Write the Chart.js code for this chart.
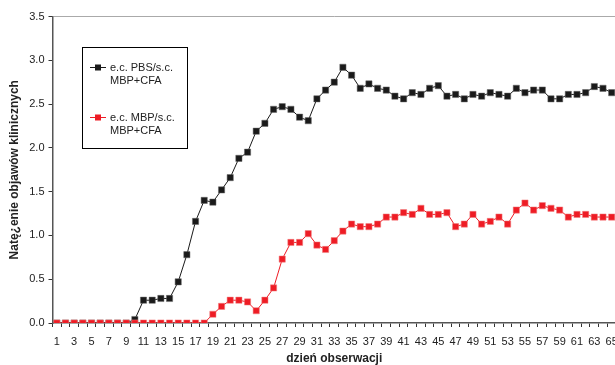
<!DOCTYPE html>
<html>
<head>
<meta charset="utf-8">
<script src="https://cdn.jsdelivr.net/npm/chart.js@4.4.1/dist/chart.umd.min.js"></script>
<style>
  html, body { margin: 0; padding: 0; background: #fff; overflow: hidden; }
  #wrap { position: relative; width: 630px; height: 365px; }
</style>
</head>
<body>
<div id="wrap"><canvas id="chart"></canvas></div>
<script>
// dni obserwacji
var days = ['1','2','3','4','5','6','7','8','9','10','11','12','13','14','15','16','17','18','19','20',
            '21','22','23','24','25','26','27','28','29','30','31','32','33','34','35','36','37','38','39','40',
            '41','42','43','44','45','46','47','48','49','50','51','52','53','54','55','56','57','58','59','60',
            '61','62','63','64','65'];

// e.c. PBS/s.c. MBP+CFA (czarna)
var dat_PBS = [0,0,0,0,0,0,0,0,0,0.04,
               0.26,0.26,0.28,0.28,0.47,0.78,1.16,1.40,1.38,1.52,
               1.66,1.88,1.95,2.19,2.28,2.44,2.47,2.44,2.35,2.31,
               2.56,2.66,2.75,2.92,2.83,2.68,2.73,2.68,2.66,2.59,
               2.56,2.63,2.61,2.68,2.71,2.59,2.61,2.56,2.61,2.59,
               2.63,2.61,2.59,2.68,2.63,2.66,2.66,2.56,2.56,2.61,
               2.61,2.63,2.70,2.68,2.63];

// e.c. MBP/s.c. MBP+CFA (czerwona)
var dat_MBP = [0,0,0,0,0,0,0,0,0,0,
               0,0,0,0,0,0,0,0,0.10,0.19,
               0.26,0.26,0.24,0.14,0.26,0.40,0.73,0.92,0.92,1.02,
               0.89,0.84,0.94,1.05,1.13,1.10,1.10,1.13,1.21,1.21,
               1.26,1.24,1.31,1.24,1.24,1.26,1.10,1.13,1.24,1.13,
               1.16,1.21,1.13,1.29,1.37,1.29,1.34,1.31,1.29,1.21,
               1.24,1.24,1.21,1.21,1.21];

var lbl_PBS = ['e.c. PBS/s.c.', 'MBP+CFA'];
var lbl_MBP = ['e.c. MBP/s.c.', 'MBP+CFA'];
var col_PBS = '#1a1a1a';
var col_MBP = '#ee1c25';
var fontFam = '"Liberation Sans", Arial, sans-serif';

// legenda w ramce (jak w Excelu)
var boxLegend = {
    id: 'boxLegend',
    afterDraw: function(chart) {
        var ctx = chart.ctx;
        ctx.save();
        ctx.strokeStyle = '#000';
        ctx.lineWidth = 1;
        ctx.strokeRect(82.5, 47.5, 105, 101);
        var items = [
            {lines: lbl_PBS, color: col_PBS, y: 67},
            {lines: lbl_MBP, color: col_MBP, y: 117}
        ];
        ctx.font = '11px ' + fontFam;
        ctx.textBaseline = 'middle';
        items.forEach(function(it) {
            ctx.strokeStyle = it.color;
            ctx.beginPath();
            ctx.moveTo(90, it.y + 0.5);
            ctx.lineTo(106, it.y + 0.5);
            ctx.stroke();
            ctx.fillStyle = it.color;
            ctx.fillRect(95, it.y - 2.5, 6, 6);
            ctx.fillStyle = '#222';
            ctx.fillText(it.lines[0], 110, it.y + 1);
            ctx.fillText(it.lines[1], 110, it.y + 14);
        });
        ctx.restore();
    }
};

var ctx = document.getElementById('chart').getContext('2d');
var chart = new Chart(ctx, {
    type: 'line',
    data: {
        labels: days,
        datasets: [{
            label: lbl_PBS.join(' '),
            data: dat_PBS,
            borderColor: col_PBS,
            backgroundColor: col_PBS,
            borderWidth: 1,
            pointStyle: 'rect',
            pointRadius: 4.4,
            pointBorderWidth: 0.5,
            pointBorderColor: '#666',
            tension: 0,
            order: 1
        }, {
            label: lbl_MBP.join(' '),
            data: dat_MBP,
            borderColor: col_MBP,
            backgroundColor: col_MBP,
            borderWidth: 1,
            pointStyle: 'rect',
            pointRadius: 4.4,
            pointBorderWidth: 0.5,
            pointBorderColor: '#f08080',
            tension: 0,
            order: 0
        }]
    },
    options: {
        responsive: true,
        maintainAspectRatio: false,
        animation: false,
        layout: { padding: { left: 0, top: 16.5, right: 14, bottom: 0 } },
        plugins: {
            legend: { display: false },
            tooltip: { enabled: false }
        },
        scales: {
            x: {
                offset: true,
                afterFit: function(s) { s.height = 42; },
                grid: {
                    offset: true,
                    color: 'transparent',
                    tickColor: '#333',
                    tickLength: 4,
                    drawOnChartArea: false
                },
                border: { color: '#555', width: 1.5 },
                ticks: {
                    autoSkip: false,
                    maxRotation: 0,
                    color: '#222',
                    padding: 8,
                    font: { family: fontFam, size: 11 },
                    callback: function(v, i) { return i % 2 === 0 ? days[i] : ''; }
                },
                title: {
                    display: true,
                    text: 'dzień obserwacji',
                    color: '#222',
                    padding: { top: 0, bottom: -1 },
                    font: { family: fontFam, size: 12, weight: 'bold' }
                }
            },
            y: {
                min: 0,
                max: 3.5,
                afterFit: function(s) { s.width = 52.5; },
                grid: {
                    color: function(c) { return c.tick && c.tick.value === 3.5 ? '#aaa' : 'transparent'; },
                    tickColor: '#333',
                    tickLength: 4
                },
                border: { color: '#555', width: 1.5 },
                ticks: {
                    stepSize: 0.5,
                    color: '#222',
                    padding: 4,
                    font: { family: fontFam, size: 11 },
                    callback: function(v) { return v.toFixed(1); }
                },
                title: {
                    display: true,
                    text: 'Natę¿enie objawów klinicznych',
                    color: '#222',
                    padding: { top: 7, bottom: 0 },
                    font: { family: fontFam, size: 12, weight: 'bold' }
                }
            }
        }
    },
    plugins: [boxLegend]
});
console.log(JSON.stringify(chart.chartArea));
</script>
</body>
</html>
